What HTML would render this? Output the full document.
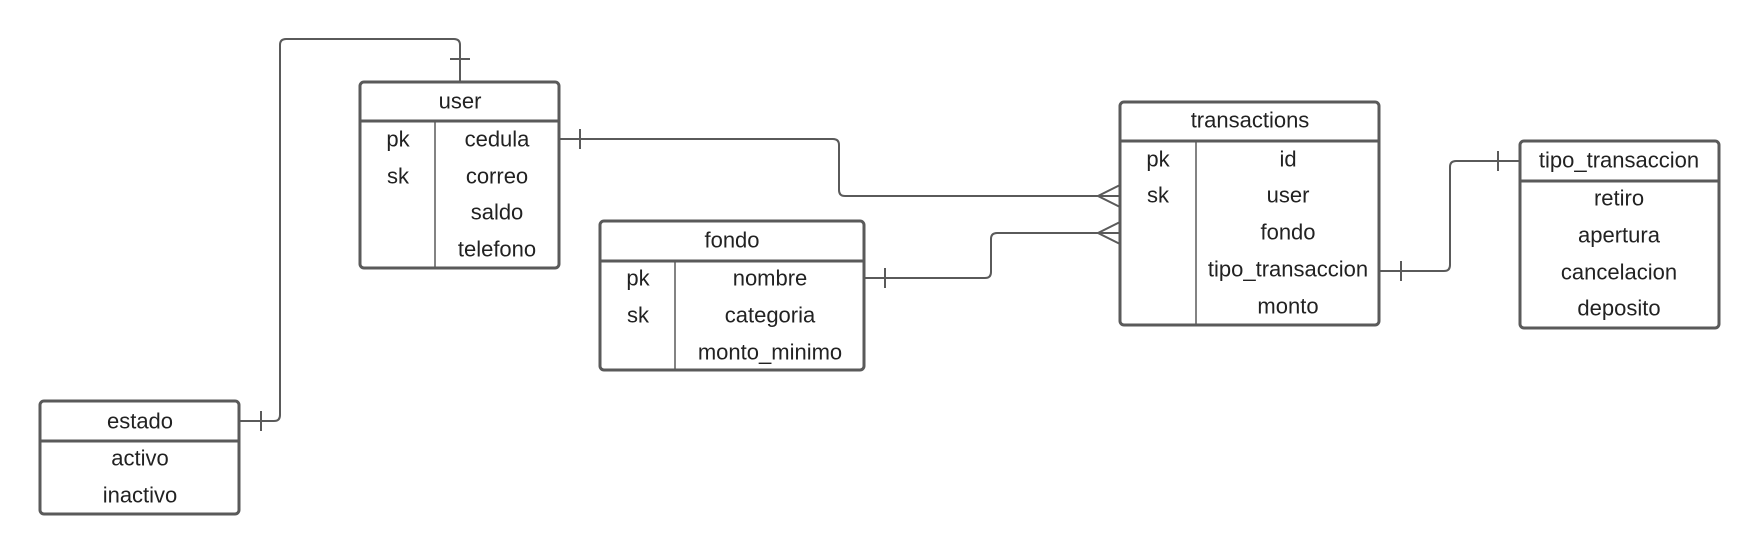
<!DOCTYPE html>
<html><head><meta charset="utf-8"><style>
html,body{margin:0;padding:0;background:#fff;width:1760px;height:556px;overflow:hidden}
svg text{font-family:"Liberation Sans",sans-serif;font-size:22px;fill:#222;text-anchor:middle;dominant-baseline:central}
</style></head><body>
<svg width="1760" height="556" viewBox="0 0 1760 556" xmlns="http://www.w3.org/2000/svg">
<g fill="none" stroke="#5a5a5a" stroke-width="2">
<path d="M460 82 V45 Q460 39 454 39 H286 Q280 39 280 45 V415 Q280 421 274 421 H240"/>
<path d="M450 59 H470 M261 411 V431"/>
<path d="M560 139 H833 Q839 139 839 145 V190 Q839 196 845 196 H1120"/>
<path d="M580 129 V149 M1120 185 L1098 196 L1120 207"/>
<path d="M865 278 H985 Q991 278 991 272 V239 Q991 233 997 233 H1120"/>
<path d="M885 268 V288 M1120 222 L1098 233 L1120 244"/>
<path d="M1380 271 H1444 Q1450 271 1450 265 V167 Q1450 161 1456 161 H1520"/>
<path d="M1401 261 V281 M1498 151 V171"/>
</g>
<g fill="none" stroke="#5a5a5a" stroke-width="3">
<rect x="360" y="82" width="199" height="186" rx="4"/>
<path d="M360 121 H559"/>
<rect x="40" y="401" width="199" height="113" rx="4"/>
<path d="M40 441 H239"/>
<rect x="600" y="221" width="264" height="149" rx="4"/>
<path d="M600 261 H864"/>
<rect x="1120" y="102" width="259" height="223" rx="4"/>
<path d="M1120 141 H1379"/>
<rect x="1520" y="141" width="199" height="187" rx="4"/>
<path d="M1520 181 H1719"/>
</g>
<g stroke="#5a5a5a" stroke-width="1.5">
<path d="M435 121 V268 M675 261 V370 M1196 141 V325"/>
</g>
<text x="460" y="101">user</text>
<text x="398" y="139">pk</text><text x="398" y="176">sk</text>
<text x="497" y="139">cedula</text><text x="497" y="176">correo</text><text x="497" y="212">saldo</text><text x="497" y="249">telefono</text>
<text x="140" y="421">estado</text>
<text x="140" y="458">activo</text><text x="140" y="495">inactivo</text>
<text x="732" y="240">fondo</text>
<text x="638" y="278">pk</text><text x="638" y="315">sk</text>
<text x="770" y="278">nombre</text><text x="770" y="315">categoria</text><text x="770" y="352">monto_minimo</text>
<text x="1250" y="120">transactions</text>
<text x="1158" y="159">pk</text><text x="1158" y="195">sk</text>
<text x="1288" y="159">id</text><text x="1288" y="195">user</text><text x="1288" y="232">fondo</text><text x="1288" y="269">tipo_transaccion</text><text x="1288" y="306">monto</text>
<text x="1619" y="160">tipo_transaccion</text>
<text x="1619" y="198">retiro</text><text x="1619" y="235">apertura</text><text x="1619" y="272">cancelacion</text><text x="1619" y="308">deposito</text>
</svg>
</body></html>
